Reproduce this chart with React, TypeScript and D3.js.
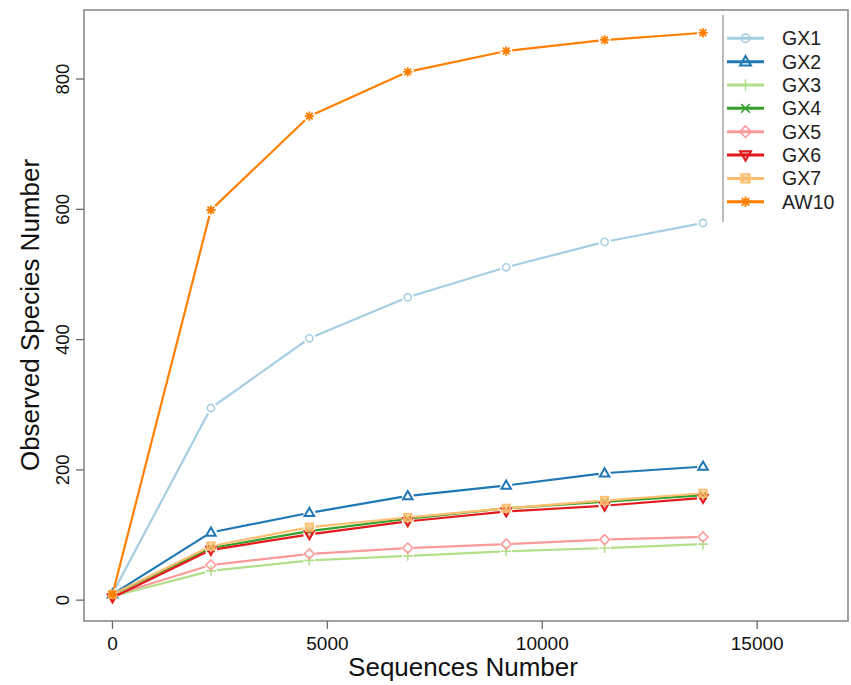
import React from 'react';
import * as d3 from 'd3';

const seqs = [0, 2290, 4580, 6870, 9160, 11450, 13740];
const samples = ['GX1', 'GX2', 'GX3', 'GX4', 'GX5', 'GX6', 'GX7', 'AW10'];
const gx1 = [10, 295, 402, 465, 511, 550, 579];
const gx2 = [9, 104, 134, 160, 176, 195, 205];
const gx3 = [6, 45, 61, 68, 75, 80, 86];
const gx4 = [8, 80, 106, 125, 141, 151, 161];
const gx5 = [7, 54, 71, 80, 86, 93, 97];
const gx6 = [4, 77, 101, 121, 136, 145, 157];
const gx7 = [9, 83, 112, 127, 141, 153, 164];
const aw10 = [9, 599, 743, 811, 843, 860, 871];
const seriesValues = [gx1, gx2, gx3, gx4, gx5, gx6, gx7, aw10];
const colors = ['#A6CEE3', '#1F78B4', '#B2DF8A', '#33A02C', '#FB9A99', '#E31A1C', '#FDBF6F', '#FF7F00'];
const shapes = ['circle', 'triangle', 'plus', 'cross', 'diamond', 'down', 'squarex', 'star'];
const xTicks = [0, 5000, 10000, 15000];
const yTicks = [0, 200, 400, 600, 800];

const W = 851, H = 685;
const L = 84, R = 848, T = 10, B = 621;
const FONT = '"Liberation Sans", Arial, Helvetica, sans-serif';

function Marker({ shape, x, y, color, s = 1 }: { shape: string; x: number; y: number; color: string; s?: number }) {
  const sw = 1.6;
  switch (shape) {
    case 'circle':
      return <circle cx={x} cy={y} r={3.6 * s} fill="none" stroke={color} strokeWidth={sw} />;
    case 'triangle': {
      const r = 5 * s;
      return <path d={`M${x},${y - r}L${x + r * 0.95},${y + r * 0.65}L${x - r * 0.95},${y + r * 0.65}Z`} fill="none" stroke={color} strokeWidth={2} />;
    }
    case 'down': {
      const r = 5 * s;
      return <path d={`M${x},${y + r}L${x + r * 0.95},${y - r * 0.65}L${x - r * 0.95},${y - r * 0.65}Z`} fill={color} fillOpacity={0.35} stroke={color} strokeWidth={2} />;
    }
    case 'plus': {
      const r = 5 * s;
      return <path d={`M${x - r},${y}H${x + r}M${x},${y - r}V${y + r}`} stroke={color} strokeWidth={sw} />;
    }
    case 'cross': {
      const r = 3.8 * s;
      return <path d={`M${x - r},${y - r}L${x + r},${y + r}M${x - r},${y + r}L${x + r},${y - r}`} stroke={color} strokeWidth={sw} />;
    }
    case 'diamond': {
      const r = 5 * s;
      return <path d={`M${x},${y - r}L${x + r},${y}L${x},${y + r}L${x - r},${y}Z`} fill="none" stroke={color} strokeWidth={sw} />;
    }
    case 'squarex': {
      const r = 3.8 * s;
      return (
        <g>
          <rect x={x - r} y={y - r} width={2 * r} height={2 * r} fill={color} fillOpacity={0.5} stroke={color} strokeWidth={sw} />
          <path d={`M${x - r},${y - r}L${x + r},${y + r}M${x - r},${y + r}L${x + r},${y - r}`} stroke={color} strokeWidth={1.2} />
        </g>
      );
    }
    case 'star': {
      const r = 4.6 * s;
      const d = r * 0.72;
      return (
        <g>
          <circle cx={x} cy={y} r={r * 0.55} fill={color} />
          <path d={`M${x - r},${y}H${x + r}M${x},${y - r}V${y + r}M${x - d},${y - d}L${x + d},${y + d}M${x - d},${y + d}L${x + d},${y - d}`} stroke={color} strokeWidth={1.8} />
        </g>
      );
    }
    default:
      return null;
  }
}

export default function App() {
  const x = d3.scaleLinear().domain([-663, 17113]).range([L, R]);
  const y = d3.scaleLinear().domain([-32, 906]).range([B, T]);
  const gap = 6;

  const segs = (vals: number[]) => {
    const pts = vals.map((v, i) => [x(seqs[i]), y(v)] as [number, number]);
    const out: string[] = [];
    for (let i = 0; i < pts.length - 1; i++) {
      const [x0, y0] = pts[i];
      const [x1, y1] = pts[i + 1];
      const dx = x1 - x0, dy = y1 - y0;
      const d = Math.hypot(dx, dy);
      if (d <= 2 * gap) continue;
      const ux = dx / d, uy = dy / d;
      const p = d3.path();
      p.moveTo(x0 + ux * gap, y0 + uy * gap);
      p.lineTo(x1 - ux * gap, y1 - uy * gap);
      out.push(p.toString());
    }
    return out;
  };

  const legY0 = 38.3, legStep = 23.35;

  return (
    <svg width={W} height={H} style={{ position: 'absolute', left: 0, top: 0, background: '#fff' }} fontFamily={FONT}>
      <rect x={0} y={0} width={W} height={H} fill="#fff" />
      {/* plot box */}
      <rect x={L} y={T} width={R - L} height={B - T} fill="none" stroke="#8a8a8a" strokeWidth={1.6} />
      {/* y axis */}
      {yTicks.map((t) => (
        <g key={'y' + t}>
          <line x1={L - 8} x2={L} y1={y(t)} y2={y(t)} stroke="#6a6a6a" strokeWidth={1.3} />
          <text transform={`translate(${69},${y(t)}) rotate(-90)`} textAnchor="middle" fontSize={18.5} fill="#111">{t}</text>
        </g>
      ))}
      {/* x axis */}
      {xTicks.map((t) => (
        <g key={'x' + t}>
          <line x1={x(t)} x2={x(t)} y1={B} y2={B + 8} stroke="#6a6a6a" strokeWidth={1.3} />
          <text x={x(t)} y={650} textAnchor="middle" fontSize={19} fill="#111">{t}</text>
        </g>
      ))}
      <text x={463} y={676} textAnchor="middle" fontSize={26} fill="#111">Sequences Number</text>
      <text transform={`translate(39,${315}) rotate(-90)`} textAnchor="middle" fontSize={26} fill="#111">Observed Species Number</text>

      {/* series */}
      {seriesValues.map((vals, si) => (
        <g key={samples[si]}>
          {segs(vals).map((d, i) => (
            <path key={i} d={d} stroke={colors[si]} strokeWidth={2.2} fill="none" />
          ))}
          {vals.map((v, i) => (
            <Marker key={i} shape={shapes[si]} x={x(seqs[i])} y={y(v)} color={colors[si]} />
          ))}
        </g>
      ))}

      {/* legend */}
      <line x1={723} x2={723} y1={15} y2={222} stroke="#aaa" strokeWidth={1.6} />
      {samples.map((s, i) => {
        const ly = legY0 + i * legStep;
        return (
          <g key={'leg' + s}>
            <line x1={727} x2={764} y1={ly} y2={ly} stroke={colors[i]} strokeWidth={3} />
            <Marker shape={shapes[i]} x={745.5} y={ly} color={colors[i]} s={1.15} />
            <text x={782} y={ly + 7} fontSize={19.5} fill="#222">{s}</text>
          </g>
        );
      })}
    </svg>
  );
}
